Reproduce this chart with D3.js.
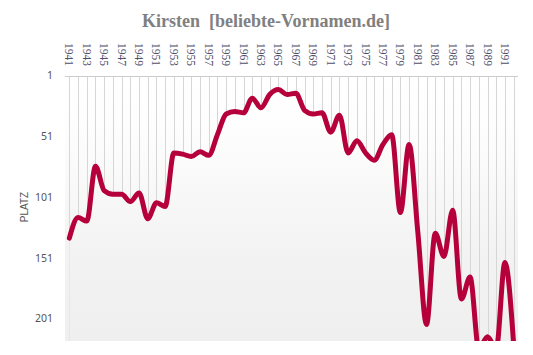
<!DOCTYPE html>
<html>
<head>
<meta charset="utf-8">
<script src="https://cdn.jsdelivr.net/npm/d3@7"></script>
<style>
  html, body { margin: 0; padding: 0; background: #fff; }
  svg { display: block; }
</style>
</head>
<body>
<svg id="chart" width="533" height="355"></svg>
<script>
const titleText = "Kirsten  [beliebte-Vornamen.de]";
const yAxisTitle = "PLATZ";
const years = [1941,1942,1943,1944,1945,1946,1947,1948,1949,1950,
               1951,1952,1953,1954,1955,1956,1957,1958,1959,1960,
               1961,1962,1963,1964,1965,1966,1967,1968,1969,1970,
               1971,1972,1973,1974,1975,1976,1977,1978,1979,1980,
               1981,1982,1983,1984,1985,1986,1987,1988,1989,1990,
               1991,1992];
const ranks = [135,118,121,76,96,99,99,105,98,119,
               106,109,65,66,68,64,67,50,33,31,
               32,20,28,17,13,17,16,30,33,32,
               48,34,65,55,65,71,58,50,114,58,
               130,206,131,150,112,185,167,226,216,226,
               155,222];
const yTicks = [1, 51, 101, 151, 201];
const xTickLabels = [1941,1943,1945,1947,1949,1951,1953,1955,1957,1959,
                     1961,1963,1965,1967,1969,1971,1973,1975,1977,1979,
                     1981,1983,1985,1987,1989,1991];

const svg = d3.select("#chart");
const plot = { left: 65, right: 518, top: 76, bottom: 341 };

const x = d3.scaleLinear().domain([1940.5, 1992.5]).range([plot.left, plot.right]);
const y = d3.scaleLinear().domain([1, 219.5]).range([75, plot.bottom]);

const defs = svg.append("defs");
const grad = defs.append("linearGradient")
  .attr("id", "bg").attr("gradientUnits", "userSpaceOnUse")
  .attr("x1", 0).attr("y1", plot.top).attr("x2", 0).attr("y2", plot.bottom);
grad.append("stop").attr("offset", "0%").attr("stop-color", "#ffffff");
grad.append("stop").attr("offset", "22%").attr("stop-color", "#fdfdfd");
grad.append("stop").attr("offset", "65%").attr("stop-color", "#f3f3f3");
grad.append("stop").attr("offset", "100%").attr("stop-color", "#efefef");

defs.append("clipPath").attr("id", "clip").append("rect")
  .attr("x", plot.left).attr("y", plot.top)
  .attr("width", plot.right - plot.left).attr("height", plot.bottom - plot.top);

// plot background
svg.append("rect")
  .attr("x", plot.left).attr("y", plot.top)
  .attr("width", plot.right - plot.left).attr("height", plot.bottom - plot.top)
  .attr("fill", "url(#bg)");

// vertical grid lines (one per year)
svg.append("g").selectAll("line").data(years).join("line")
  .attr("x1", d => Math.round(x(d)) + 0.5).attr("x2", d => Math.round(x(d)) + 0.5)
  .attr("y1", plot.top).attr("y2", plot.bottom)
  .attr("stroke", "#d6d6d6").attr("stroke-width", 1);

// top axis line
svg.append("line")
  .attr("x1", plot.left).attr("x2", plot.right)
  .attr("y1", plot.top + 0.5).attr("y2", plot.top + 0.5)
  .attr("stroke", "#cccccc");

const curve = d3.curveMonotoneX;
const g = svg.append("g").attr("clip-path", "url(#clip)");

// area under line hides grid lines
g.append("path").datum(years.map((yr, i) => [yr, ranks[i]]))
  .attr("fill", "url(#bg)")
  .attr("d", d3.area().x(d => x(d[0])).y0(plot.bottom + 10).y1(d => y(d[1])).curve(curve));

g.append("path").datum(years.map((yr, i) => [yr, ranks[i]]))
  .attr("fill", "none")
  .attr("stroke", "#b5003b")
  .attr("stroke-width", 5)
  .attr("stroke-linejoin", "round")
  .attr("stroke-linecap", "round")
  .attr("d", d3.line().x(d => x(d[0])).y(d => y(d[1])).curve(curve));

// x labels (top, rotated)
svg.append("g").selectAll("text").data(xTickLabels).join("text")
  .attr("transform", d => `translate(${x(d)},43) rotate(90)`)
  .attr("text-anchor", "start")
  .attr("dominant-baseline", "central")
  .attr("font-family", "Liberation Serif, serif")
  .attr("font-size", 11.5)
  .attr("fill", "#50506a")
  .text(d => d);

// y labels
svg.append("g").selectAll("text").data(yTicks).join("text")
  .attr("x", 53).attr("y", d => y(d))
  .attr("text-anchor", "end")
  .attr("dominant-baseline", "central")
  .attr("font-family", "Noto Sans, sans-serif")
  .attr("font-size", 10.5)
  .attr("fill", "#555555")
  .text(d => d);

// y axis title
svg.append("text")
  .attr("transform", "translate(24,207) rotate(-90)")
  .attr("text-anchor", "middle")
  .attr("dominant-baseline", "central")
  .attr("font-family", "Liberation Sans, sans-serif")
  .attr("font-size", 10)
  .attr("fill", "#555555")
  .text(yAxisTitle);

// title
svg.append("text")
  .attr("x", 266).attr("y", 27)
  .attr("text-anchor", "middle")
  .attr("font-family", "Liberation Serif, serif")
  .attr("font-weight", "bold")
  .attr("font-size", 18)
  .attr("fill", "#808080")
  .style("white-space", "pre")
  .text(titleText);
</script>
</body>
</html>
